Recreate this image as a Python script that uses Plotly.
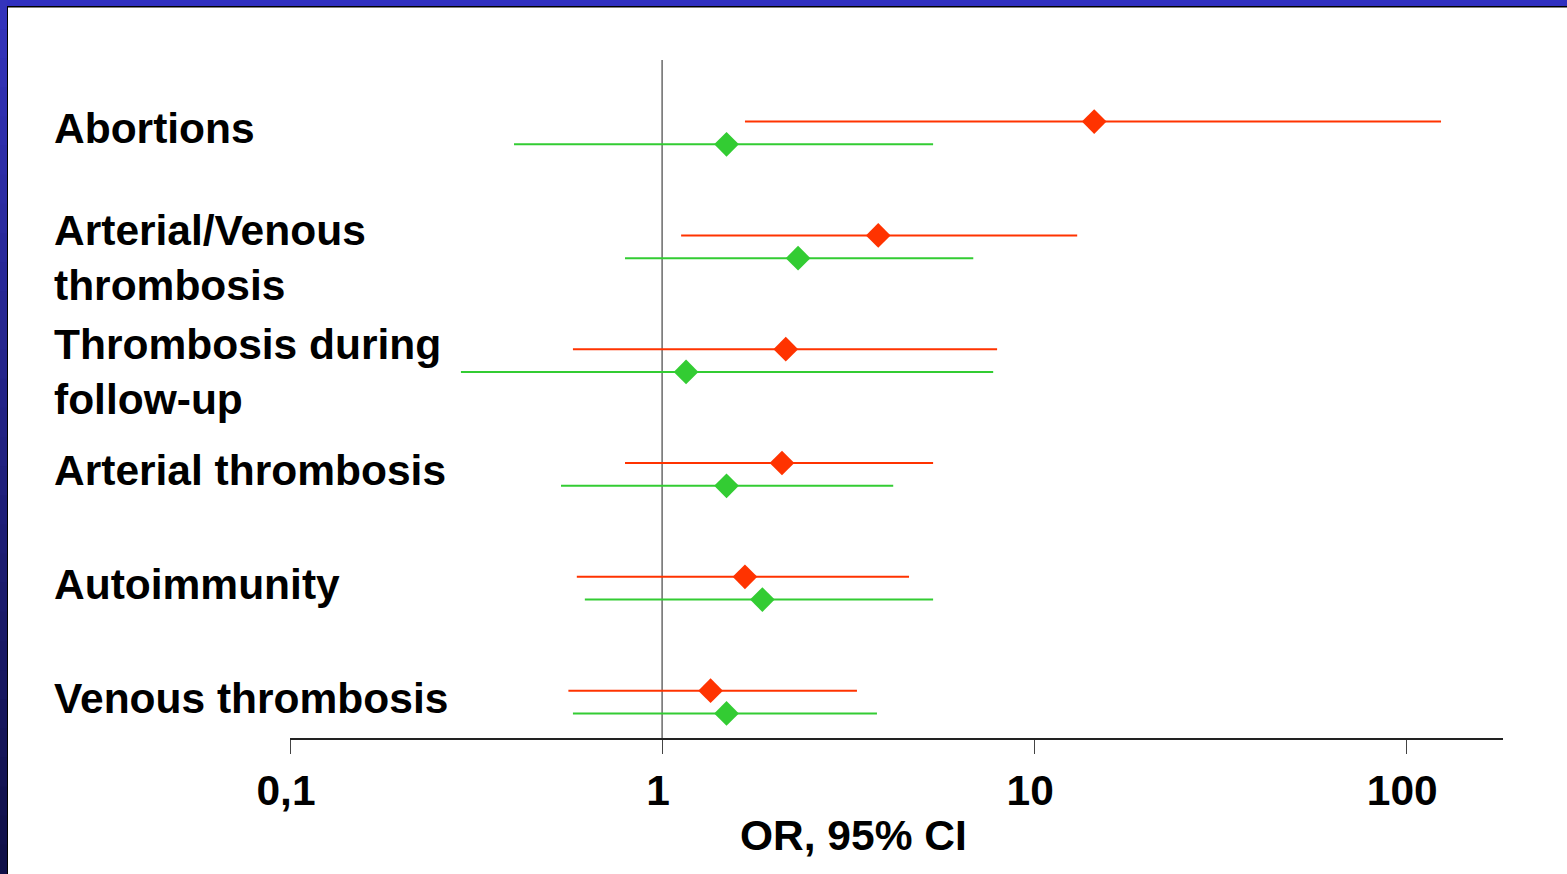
import plotly.graph_objects as go

categories = ["Abortions", "Arterial/Venous<br>thrombosis", "Thrombosis during<br>follow-up",
              "Arterial thrombosis", "Autoimmunity", "Venous thrombosis"]
red_or = [14.5, 3.81, 2.15, 2.10, 1.67, 1.35]
red_lo = [1.67, 1.125, 0.576, 0.795, 0.59, 0.56]
red_hi = [124, 13.05, 7.95, 5.35, 4.61, 3.34]
green_or = [1.49, 2.32, 1.16, 1.49, 1.86, 1.49]
green_lo = [0.40, 0.795, 0.288, 0.535, 0.62, 0.576]
green_hi = [5.35, 6.86, 7.76, 4.18, 5.35, 3.78]
tick_vals = [0.1, 1, 10, 100]
tick_text = ["0,1", "1", "10", "100"]
axis_title = "OR, 95% CI"

W, H = 1567, 874
L, R, T, B = 290, 64, 60, 136
PW, PH = W - L - R, H - T - B

def px(x):
    return (x - L) / PW

def py(y):
    return (H - B - y) / PH

n = len(categories)
pos = [n - 1 - i for i in range(n)]
off = 0.1
RED = "#FF3300"
GREEN = "#33CC33"
FONT = "Liberation Sans"

fig = go.Figure()
fig.add_trace(go.Scatter(
    x=red_or, y=[p + off for p in pos], mode="markers",
    marker=dict(symbol="diamond", size=19, color=RED, line=dict(width=0)),
    error_x=dict(type="data", symmetric=False,
                 array=[h - o for h, o in zip(red_hi, red_or)],
                 arrayminus=[o - l for o, l in zip(red_or, red_lo)],
                 color=RED, thickness=2, width=0),
    showlegend=False, hoverinfo="skip"))
fig.add_trace(go.Scatter(
    x=green_or, y=[p - off for p in pos], mode="markers",
    marker=dict(symbol="diamond", size=19, color=GREEN, line=dict(width=0)),
    error_x=dict(type="data", symmetric=False,
                 array=[h - o for h, o in zip(green_hi, green_or)],
                 arrayminus=[o - l for o, l in zip(green_or, green_lo)],
                 color=GREEN, thickness=2, width=0),
    showlegend=False, hoverinfo="skip"))

shapes = []
# reference line at OR = 1
shapes.append(dict(type="line", xref="x", yref="paper", x0=1, x1=1, y0=0, y1=1,
                   line=dict(color="#444444", width=1.2), layer="below"))
# top blue bar
shapes.append(dict(type="rect", xref="paper", yref="paper", x0=px(0), x1=px(W),
                   y0=py(6), y1=py(0), fillcolor="#3030C0", line=dict(width=0)))
shapes.append(dict(type="rect", xref="paper", yref="paper", x0=px(7), x1=px(W),
                   y0=py(7.5), y1=py(6), fillcolor="#000000", line=dict(width=0)))
# left gradient bar
steps = 30
c0 = (0x33, 0x33, 0xBB)
c1 = (0x10, 0x10, 0x48)
for i in range(steps):
    t = i / (steps - 1)
    col = "rgb(%d,%d,%d)" % tuple(round(a + (b - a) * t) for a, b in zip(c0, c1))
    y0 = H * i / steps
    y1 = H * (i + 1) / steps + 1
    shapes.append(dict(type="rect", xref="paper", yref="paper", x0=px(0), x1=px(7),
                       y0=py(min(y1, H)), y1=py(y0), fillcolor=col, line=dict(width=0)))
shapes.append(dict(type="rect", xref="paper", yref="paper", x0=px(7), x1=px(8),
                   y0=py(H), y1=py(6), fillcolor="#000000", line=dict(width=0)))

annotations = []
for c, p in zip(categories, pos):
    two_line = "<br>" in c
    annotations.append(dict(text=c, xref="paper", yref="y", x=px(52), y=p,
                            xanchor="left", yanchor="middle", align="left",
                            showarrow=False, yshift=-11 if two_line else 4,
                            font=dict(family=FONT, size=42.5, color="black", weight="bold")))
annotations.append(dict(text=axis_title, xref="paper", yref="paper", x=px(853), y=py(835),
                        xanchor="center", yanchor="middle", showarrow=False,
                        font=dict(family=FONT, size=42.5, color="black", weight="bold")))

fig.update_layout(
    width=W, height=H,
    margin=dict(l=L, r=R, t=T, b=B),
    paper_bgcolor="white", plot_bgcolor="white",
    shapes=shapes, annotations=annotations,
    xaxis=dict(type="log", range=[-1, 2.26], tickvals=tick_vals, ticktext=tick_text,
               showgrid=False, zeroline=False, showline=True, linecolor="#222222",
               linewidth=2, ticks="outside", ticklen=14, tickwidth=1, tickcolor="#444444",
               ticklabelshift=-4,
               tickfont=dict(family=FONT, size=42.5, color="black", weight="bold")),
    yaxis=dict(range=[-0.316, 5.641], visible=False, showgrid=False, zeroline=False),
)

fig.write_html("out.html", config={"displayModeBar": False},
               post_script="document.body.style.margin='0';document.body.style.overflow='hidden';")
